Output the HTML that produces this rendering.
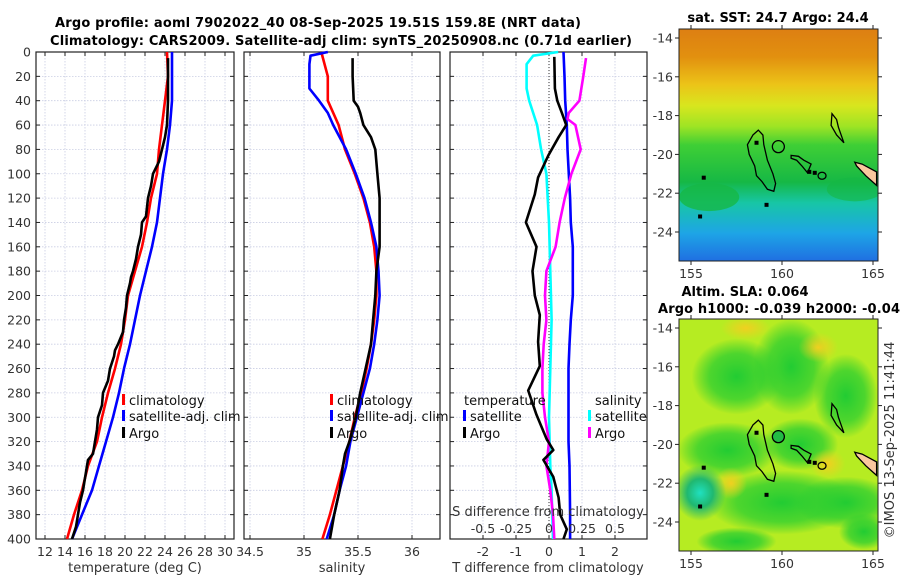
<!DOCTYPE html>
<html><head><meta charset="utf-8"><style>
html,body{margin:0;padding:0;background:#fff;}
svg{display:block;font-family:"DejaVu Sans","Liberation Sans",sans-serif;}
.tk{font-size:12.5px;fill:#333;}
.tt{font-size:13px;font-weight:bold;fill:#000;}
.lg{font-size:13px;fill:#111;}
</style></head><body>
<svg id="fig" width="900" height="580" viewBox="0 0 900 580" xmlns="http://www.w3.org/2000/svg">
<defs>
<linearGradient id="sstg" x1="0" y1="0" x2="0" y2="1">
<stop offset="0" stop-color="#dd7f12"/><stop offset="0.12" stop-color="#e2900f"/>
<stop offset="0.24" stop-color="#ecc418"/><stop offset="0.33" stop-color="#d8e61e"/>
<stop offset="0.42" stop-color="#9ee424"/><stop offset="0.50" stop-color="#3fcf35"/>
<stop offset="0.66" stop-color="#16b845"/><stop offset="0.75" stop-color="#17c6a6"/>
<stop offset="0.88" stop-color="#1ea5e6"/><stop offset="1" stop-color="#1f6fe2"/>
</linearGradient>
<radialGradient id="blobG"><stop offset="0" stop-color="#22cc33"/><stop offset="0.6" stop-color="#33d030" stop-opacity="0.8"/><stop offset="1" stop-color="#22cc33" stop-opacity="0"/></radialGradient>
<radialGradient id="blobY"><stop offset="0" stop-color="#f0d020"/><stop offset="1" stop-color="#f0d020" stop-opacity="0"/></radialGradient>
<radialGradient id="blobC"><stop offset="0" stop-color="#20e0c0"/><stop offset="0.5" stop-color="#20b870"/><stop offset="1" stop-color="#20b870" stop-opacity="0"/></radialGradient>
</defs>
<text class="tt" x="55" y="27" textLength="526">Argo profile: aoml 7902022_40 08-Sep-2025 19.51S 159.8E (NRT data)</text>
<text class="tt" x="50" y="45" textLength="582">Climatology: CARS2009. Satellite-adj clim: synTS_20250908.nc (0.71d earlier)</text>
<g id="p1"></g>
<g id="p2"></g>
<g id="p3"></g>
<g id="m1"></g>
<g id="m2"></g>
<text class="tt" x="778" y="22" text-anchor="middle">sat. SST: 24.7 Argo: 24.4</text>
<text class="tt" x="745" y="296" text-anchor="middle">Altim. SLA: 0.064</text>
<text class="tt" x="658" y="313" textLength="242">Argo h1000: -0.039 h2000: -0.04</text>
<text class="tk" transform="translate(894,440) rotate(-90)" text-anchor="middle" style="font-size:13px">©IMOS 13-Sep-2025 11:41:44</text>
</svg>
<script>
// ---- data ----
const depthsStd = [0,20,40,60,80,100,120,140,160,180,200,220,240,260,280,300,320,340,360,380,400];
const climT = [24.2,24.3,24.0,23.7,23.4,23.2,22.6,22.2,21.7,21.0,20.3,20.0,19.6,19.0,18.3,17.7,17.2,16.3,15.7,14.9,14.2];
const satT = [24.7,24.7,24.7,24.5,24.2,23.8,23.5,23.2,22.7,22.1,21.5,21.0,20.5,19.9,19.4,18.8,18.1,17.4,16.7,15.7,14.7];
const argoTDepth = [5,20,40,60,70,80,90,100,110,120,135,140,150,160,170,180,185,190,200,210,220,230,240,245,250,260,270,280,290,300,310,320,330,335,340,350,360,370,380,390,400];
const argoT = [24.3,24.3,24.3,24.2,24.0,23.7,23.4,22.8,22.6,22.3,22.1,21.7,21.6,21.3,21.1,20.8,20.6,20.5,20.2,20.1,19.9,19.8,19.3,19.0,18.9,18.5,18.3,17.8,17.7,17.3,17.2,17.0,16.8,16.3,16.2,16.0,15.8,15.5,15.3,15.1,14.7];
const climS = [35.16,35.22,35.22,35.32,35.38,35.47,35.55,35.61,35.65,35.67,35.67,35.65,35.62,35.58,35.53,35.47,35.42,35.36,35.30,35.24,35.17];
const satSDepth = [0,3,10,20,30,40,50,60,80,100,120,140,160,180,200,220,240,260,280,300,320,340,360,380,400];
const satS = [35.22,35.06,35.05,35.05,35.05,35.14,35.22,35.27,35.39,35.48,35.56,35.62,35.67,35.69,35.70,35.68,35.65,35.61,35.55,35.49,35.43,35.39,35.33,35.28,35.21];
const argoSDepth = [5,20,40,45,50,60,70,80,100,120,140,160,180,200,220,240,260,280,300,320,330,340,360,380,400];
const argoS = [35.45,35.45,35.46,35.50,35.52,35.55,35.62,35.66,35.68,35.70,35.70,35.70,35.67,35.66,35.64,35.62,35.57,35.52,35.48,35.42,35.38,35.36,35.33,35.28,35.24];
const satTdiff = [0.44,0.47,0.49,0.54,0.56,0.60,0.64,0.66,0.72,0.72,0.72,0.66,0.62,0.59,0.59,0.59,0.59,0.62,0.63,0.64,0.64];
const argoTdDepth = [4,30,40,50,60,70,85,103,117,140,160,180,200,216,238,258,278,298,318,327,335,349,366,380,392,400];
const argoTdiff = [0.16,0.18,0.25,0.39,0.52,0.29,-0.02,-0.33,-0.43,-0.70,-0.38,-0.50,-0.43,-0.28,-0.33,-0.28,-0.63,-0.38,-0.07,0.13,-0.17,0.13,0.29,0.34,0.54,0.44];
const satSdDepth = [0,3,10,30,40,60,80,100,140,180,220,260,300,340,360,400];
const satSdiff = [0.07,-0.12,-0.17,-0.17,-0.15,-0.09,-0.06,-0.02,0.0,0.01,0.02,0.01,0.0,0.01,0.02,0.03];
const argoSdDepth = [5,20,40,50,55,60,80,100,120,140,160,180,200,220,240,260,280,300,320,340,360,380,400];
const argoSdiff = [0.28,0.26,0.23,0.15,0.14,0.20,0.24,0.17,0.12,0.08,0.05,-0.02,-0.03,-0.02,-0.04,-0.05,-0.05,-0.03,0.0,-0.02,0.01,0.03,0.04];
const depthTicks = [0,20,40,60,80,100,120,140,160,180,200,220,240,260,280,300,320,340,360,380,400];
const tempTicks = [12,14,16,18,20,22,24,26,28,30];
const salTicks = [34.5,35,35.5,36];
const salTickLabels = ["34.5","35","35.5","36"];
const tdTicks = [-2,-1,0,1,2];
const sdTicks = [-0.5,-0.25,0,0.25,0.5];
const sdTickLabels = ["-0.5","-0.25","0","0.25","0.5"];
const lonTicks = [155,160,165];
const latTicks = [-14,-16,-18,-20,-22,-24];
const islandMain = [[158.4,-19.0],[158.7,-18.75],[158.95,-19.0],[159.0,-19.5],[159.2,-20.3],[159.5,-21.0],[159.65,-21.5],[159.55,-21.9],[159.2,-21.8],[158.9,-21.4],[158.6,-21.1],[158.5,-20.6],[158.2,-20.0],[158.1,-19.5],[158.4,-19.0]];
const islandEast = [[160.5,-20.05],[160.9,-20.1],[161.2,-20.3],[161.6,-20.5],[161.4,-20.95],[161.1,-20.6],[160.8,-20.3],[160.5,-20.2],[160.5,-20.05]];
const islandNE = [[162.75,-17.9],[163.0,-18.2],[163.1,-18.6],[163.4,-19.4],[163.0,-19.0],[162.7,-18.5],[162.75,-17.9]];
const coast = [[164.0,-20.4],[164.4,-20.5],[165.2,-20.9],[165.2,-21.6],[164.6,-21.1],[164.1,-20.6]];

// ---- helpers ----
const NS = 'http://www.w3.org/2000/svg';
function mk(parent, tag, attrs){ const e=document.createElementNS(NS,tag); for(const k in attrs) e.setAttribute(k,attrs[k]); parent.appendChild(e); return e; }
const Y0=52, Y1=539;
function yD(d){ return Y0 + d*(Y1-Y0)/400; }
function xT(t){ return 35 + (t-11)*10; }
function xS(s){ return 250 + (s-34.5)*108; }
function xTd(t){ return 549 + t*33; }
function xSd(s){ return 549 + s*132; }

function frame(g, x0, x1, xticks, xfn, xlabels, showY){
  for(const d of depthTicks){
    const ln=mk(g,'line',{x1:x0,x2:x1,y1:yD(d),y2:yD(d),stroke:'#c9cde3','stroke-width':0.8,'stroke-dasharray':'1.5 1.5'});
    
    
    mk(g,'line',{x1:x0,x2:x0+4,y1:yD(d),y2:yD(d),stroke:'#222','stroke-width':1});
    mk(g,'line',{x1:x1-4,x2:x1,y1:yD(d),y2:yD(d),stroke:'#222','stroke-width':1});
    if(showY){
      const t=mk(g,'text',{x:x0-5,y:yD(d)+4.5,'text-anchor':'end',class:'tk'});
      t.textContent=d;
      
      
    }
  }
  xticks.forEach((v,i)=>{
    const x=xfn(v);
    const ln=mk(g,'line',{x1:x,x2:x,y1:Y0,y2:Y1,stroke:'#c9cde3','stroke-width':0.8,'stroke-dasharray':'1.5 1.5'});
    
    
    mk(g,'line',{x1:x,x2:x,y1:Y0,y2:Y0+4,stroke:'#222'});
    mk(g,'line',{x1:x,x2:x,y1:Y1-4,y2:Y1,stroke:'#222'});
    if(xlabels){
      const t=mk(g,'text',{x:x,y:556,'text-anchor':'middle',class:'tk'});
      t.textContent=xlabels[i];
      
      
    }
  });
  const r=mk(g,'rect',{x:x0,y:Y0,width:x1-x0,height:Y1-Y0,fill:'none',stroke:'#222','stroke-width':1.2});
  
  
}
function line(g, xs, ds, xfn, color, name){
  const pts = xs.map((v,i)=>xfn(v).toFixed(1)+','+yD(ds[i]).toFixed(1)).join(' ');
  const p=mk(g,'polyline',{points:pts,fill:'none',stroke:color,'stroke-width':2.6,'stroke-linejoin':'round'});
  
  
}
function legendEntry(g,x,y,color,label){
  const e=mk(g,'g',{});
  
  
  if(color) mk(e,'rect',{x:x,y:y-6,width:3,height:11,fill:color});
  const t=mk(e,'text',{x:x+7,y:y+5,class:'lg'});
  t.textContent=label;
}
function axLabel(g,x,y,txt,name){
  const t=mk(g,'text',{x:x,y:y,'text-anchor':'middle',class:'tk',style:'font-size:13px'});
  t.textContent=txt;
  
  
}

// ---- panel 1 ----
const p1=document.getElementById('p1');
frame(p1,36,234,tempTicks,xT,tempTicks.map(String),true);
line(p1,climT,depthsStd,xT,'#ff0000','climatology-temp-line');
line(p1,satT,depthsStd,xT,'#0000ff','satellite-temp-line');
line(p1,argoT,argoTDepth,xT,'#000000','argo-temp-line');
legendEntry(p1,122,400,'#ff0000','climatology');
legendEntry(p1,122,416,'#0000ff','satellite-adj. clim');
legendEntry(p1,122,433,'#000000','Argo');
axLabel(p1,135,572,'temperature (deg C)','x-axis-title-temperature');

// ---- panel 2 ----
const p2=document.getElementById('p2');
frame(p2,244,440,salTicks,xS,salTickLabels,false);
line(p2,climS,depthsStd,xS,'#ff0000','climatology-salinity-line');
line(p2,satS,satSDepth,xS,'#0000ff','satellite-salinity-line');
line(p2,argoS,argoSDepth,xS,'#000000','argo-salinity-line');
legendEntry(p2,330,400,'#ff0000','climatology');
legendEntry(p2,330,416,'#0000ff','satellite-adj. clim');
legendEntry(p2,330,433,'#000000','Argo');
axLabel(p2,342,572,'salinity','x-axis-title-salinity');

// ---- panel 3 ----
const p3=document.getElementById('p3');
frame(p3,450,647,tdTicks,xTd,tdTicks.map(String),false);
const zl=mk(p3,'line',{x1:549,x2:549,y1:Y0,y2:Y1,stroke:'#333','stroke-width':1,'stroke-dasharray':'1 2'});


line(p3,satTdiff,depthsStd,xTd,'#0000ff','satellite-temp-diff-line');
line(p3,satSdiff,satSdDepth,xSd,'#00ffff','satellite-salinity-diff-line');
line(p3,argoSdiff,argoSdDepth,xSd,'#ff00ff','argo-salinity-diff-line');
line(p3,argoTdiff,argoTdDepth,xTd,'#000000','argo-temp-diff-line');
legendEntry(p3,457,400,null,'temperature');
legendEntry(p3,463,416,'#0000ff','satellite');
legendEntry(p3,463,433,'#000000','Argo');
legendEntry(p3,588,400,null,'salinity');
legendEntry(p3,588,416,'#00ffff','satellite');
legendEntry(p3,588,433,'#ff00ff','Argo');
axLabel(p3,548,516,'S difference from climatology','s-diff-axis-title');
sdTicks.forEach((v,i)=>{
  const t=mk(p3,'text',{x:xSd(v),y:533,'text-anchor':'middle',class:'tk'});
  t.textContent=sdTickLabels[i];
  
  
});
axLabel(p3,548,572,'T difference from climatology','t-diff-axis-title');

// ---- maps ----
function buildMap(g, top, kind){
  const x0=679,x1=878,y1=top+232;
  const lx=lon=>691+(lon-155)*18.2;
  const ly=lat=>top+9+(-14-lat)*19.4;
  const clip='clip'+kind;
  const cp=mk(g,'clipPath',{id:clip}); mk(cp,'rect',{x:x0,y:top,width:x1-x0,height:232});
  const bg=mk(g,'g',{'clip-path':'url(#'+clip+')'});
  if(kind==='sst'){
    const r=mk(bg,'rect',{x:x0,y:top,width:x1-x0,height:232,fill:'url(#sstg)'});
    
    
    mk(bg,'ellipse',{cx:lx(156),cy:ly(-22.2),rx:30,ry:14,fill:'#16b845',opacity:0.8});
    mk(bg,'ellipse',{cx:lx(164),cy:ly(-21.8),rx:28,ry:12,fill:'#16b845',opacity:0.6});
  } else {
    const r=mk(bg,'rect',{x:x0,y:top,width:x1-x0,height:232,fill:'#b6ec22'});
    
    
    [[157.5,-16.5,45,38],[160.5,-16.0,38,48],[163.5,-17.5,32,42],[157,-20.3,50,28],[160,-23,75,32],[163.5,-23,50,26],[161,-20,38,26],[157.5,-25,40,14],[164.5,-24.5,25,18]].forEach(b=>mk(bg,'ellipse',{cx:lx(b[0]),cy:ly(b[1]),rx:b[2],ry:b[3],fill:'url(#blobG)'}));
    [[158,-14,25,12],[162,-15,20,15],[162.5,-21,18,15],[157.2,-22,16,16]].forEach(b=>mk(bg,'ellipse',{cx:lx(b[0]),cy:ly(b[1]),rx:b[2],ry:b[3],fill:'url(#blobY)'}));
    mk(bg,'ellipse',{cx:lx(155.5),cy:ly(-22.5),rx:26,ry:28,fill:'url(#blobC)'});
  }
  const poly=(pts,fill,name)=>{
    const p=mk(bg,'polygon',{points:pts.map(q=>lx(q[0]).toFixed(1)+','+ly(q[1]).toFixed(1)).join(' '),fill:fill,stroke:'#000','stroke-width':1.3});
    
    
  };
  poly(islandMain,'none','island-outline');
  poly(islandEast,'none','island-outline');
  poly(islandNE,'none','island-outline');
  poly(coast,'#f9c89e','coastline');
  const c=mk(bg,'circle',{cx:lx(159.8),cy:ly(-19.6),r:6,fill:kind==='sla'?'#22bb44':'none',stroke:'#000','stroke-width':1.3});
  
  
  mk(bg,'ellipse',{cx:lx(162.2),cy:ly(-21.1),rx:4,ry:3.5,fill:'none',stroke:'#000','stroke-width':1.3});
  [[155.7,-21.2],[155.5,-23.2],[159.15,-22.6],[161.5,-20.9],[161.8,-20.95],[158.6,-19.4]].forEach(q=>mk(bg,'rect',{x:lx(q[0])-2,y:ly(q[1])-2,width:4,height:4,fill:'#000'}));
  const fr=mk(g,'rect',{x:x0,y:top,width:x1-x0,height:232,fill:'none',stroke:'#222','stroke-width':1});
  
  
  latTicks.forEach(v=>{
    mk(g,'line',{x1:x0,x2:x0-4,y1:ly(v),y2:ly(v),stroke:'#222'});
    mk(g,'line',{x1:x1,x2:x1+4,y1:ly(v),y2:ly(v),stroke:'#222'});
    const t=mk(g,'text',{x:x0-6,y:ly(v)+4.5,'text-anchor':'end',class:'tk'});
    t.textContent=v;
    
    
  });
  lonTicks.forEach(v=>{
    mk(g,'line',{x1:lx(v),x2:lx(v),y1:y1,y2:y1+4,stroke:'#222'});
    mk(g,'line',{x1:lx(v),x2:lx(v),y1:top,y2:top-4,stroke:'#222'});
    const t=mk(g,'text',{x:lx(v),y:y1+17,'text-anchor':'middle',class:'tk'});
    t.textContent=v;
    
    
  });
}
buildMap(document.getElementById('m1'),29,'sst');
buildMap(document.getElementById('m2'),319,'sla');
</script>
</body></html>
